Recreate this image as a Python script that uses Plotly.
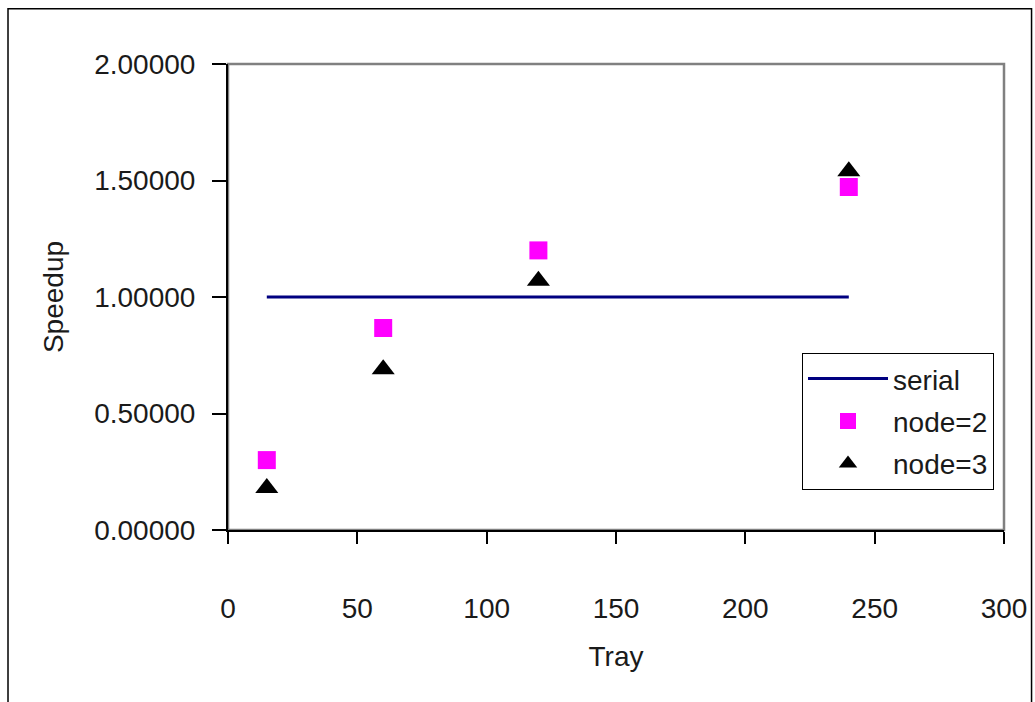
import plotly.graph_objects as go

# Tray counts and measured speedups
trays = [15, 60, 120, 240]
serial_speedup = [1.0, 1.0, 1.0, 1.0]
node2_speedup = [0.30, 0.867, 1.20, 1.472]
node3_speedup = [0.18, 0.69, 1.07, 1.54]

x_ticks = [0, 50, 100, 150, 200, 250, 300]
y_ticks = [0.0, 0.5, 1.0, 1.5, 2.0]

FONT = "Liberation Sans, Arial, sans-serif"

fig = go.Figure()
fig.add_trace(go.Scatter(
    x=[trays[0], trays[-1]], y=[serial_speedup[0], serial_speedup[-1]],
    mode="lines", name="serial", legendgroup="a",
    line=dict(color="#000080", width=3),
))
fig.add_trace(go.Scatter(
    x=trays, y=node2_speedup, mode="markers", name="node=2", legendgroup="b",
    marker=dict(symbol="square", size=18, color="#ff00ff"),
))
fig.add_trace(go.Scatter(
    x=trays, y=node3_speedup, mode="markers", name="node=3", legendgroup="c",
    marker=dict(symbol="triangle-up", size=20, color="#000000"),
))

# Plot-area border (grey) and outer chart frame (black)
fig.add_shape(type="rect", xref="paper", yref="paper", x0=0, x1=1, y0=0, y1=1,
              line=dict(color="#808080", width=2.5), layer="below")
fig.add_shape(type="rect", xref="paper", yref="paper",
              x0=-0.2835, x1=1.0355, y0=-0.40, y1=1.1185,
              line=dict(color="#000000", width=1.5), layer="below")

fig.update_layout(
    width=1035, height=702,
    margin=dict(l=228, r=31, t=64, b=172, autoexpand=False),
    paper_bgcolor="white", plot_bgcolor="white",
    font=dict(family=FONT, size=28, color="#1a1a1a"),
    showlegend=True,
    legend=dict(
        x=0.7397, xanchor="left", y=0.380, yanchor="top",
        bgcolor="white", bordercolor="#000000", borderwidth=1,
        font=dict(size=28, family=FONT, color="#1a1a1a"),
        tracegroupgap=3, itemwidth=80,
    ),
    xaxis=dict(
        range=[0, 300], tickvals=x_ticks, ticktext=[str(v) for v in x_ticks],
        showgrid=False, zeroline=False, automargin=False,
        showline=True, linecolor="#000000", linewidth=2,
        ticks="outside", ticklen=12, tickwidth=1.5, tickcolor="#000000",
        ticklabelstandoff=40,
        title=dict(text="Tray", standoff=24, font=dict(size=28)),
    ),
    yaxis=dict(
        range=[0, 2], tickvals=y_ticks, ticktext=[f"{v:.5f}" for v in y_ticks],
        showgrid=False, zeroline=False, automargin=False,
        showline=True, linecolor="#000000", linewidth=2,
        ticks="outside", ticklen=14, tickwidth=1.5, tickcolor="#000000",
        ticklabelstandoff=11,
        title=dict(text="Speedup", standoff=22, font=dict(size=28)),
    ),
)

fig.write_html("out.html")
